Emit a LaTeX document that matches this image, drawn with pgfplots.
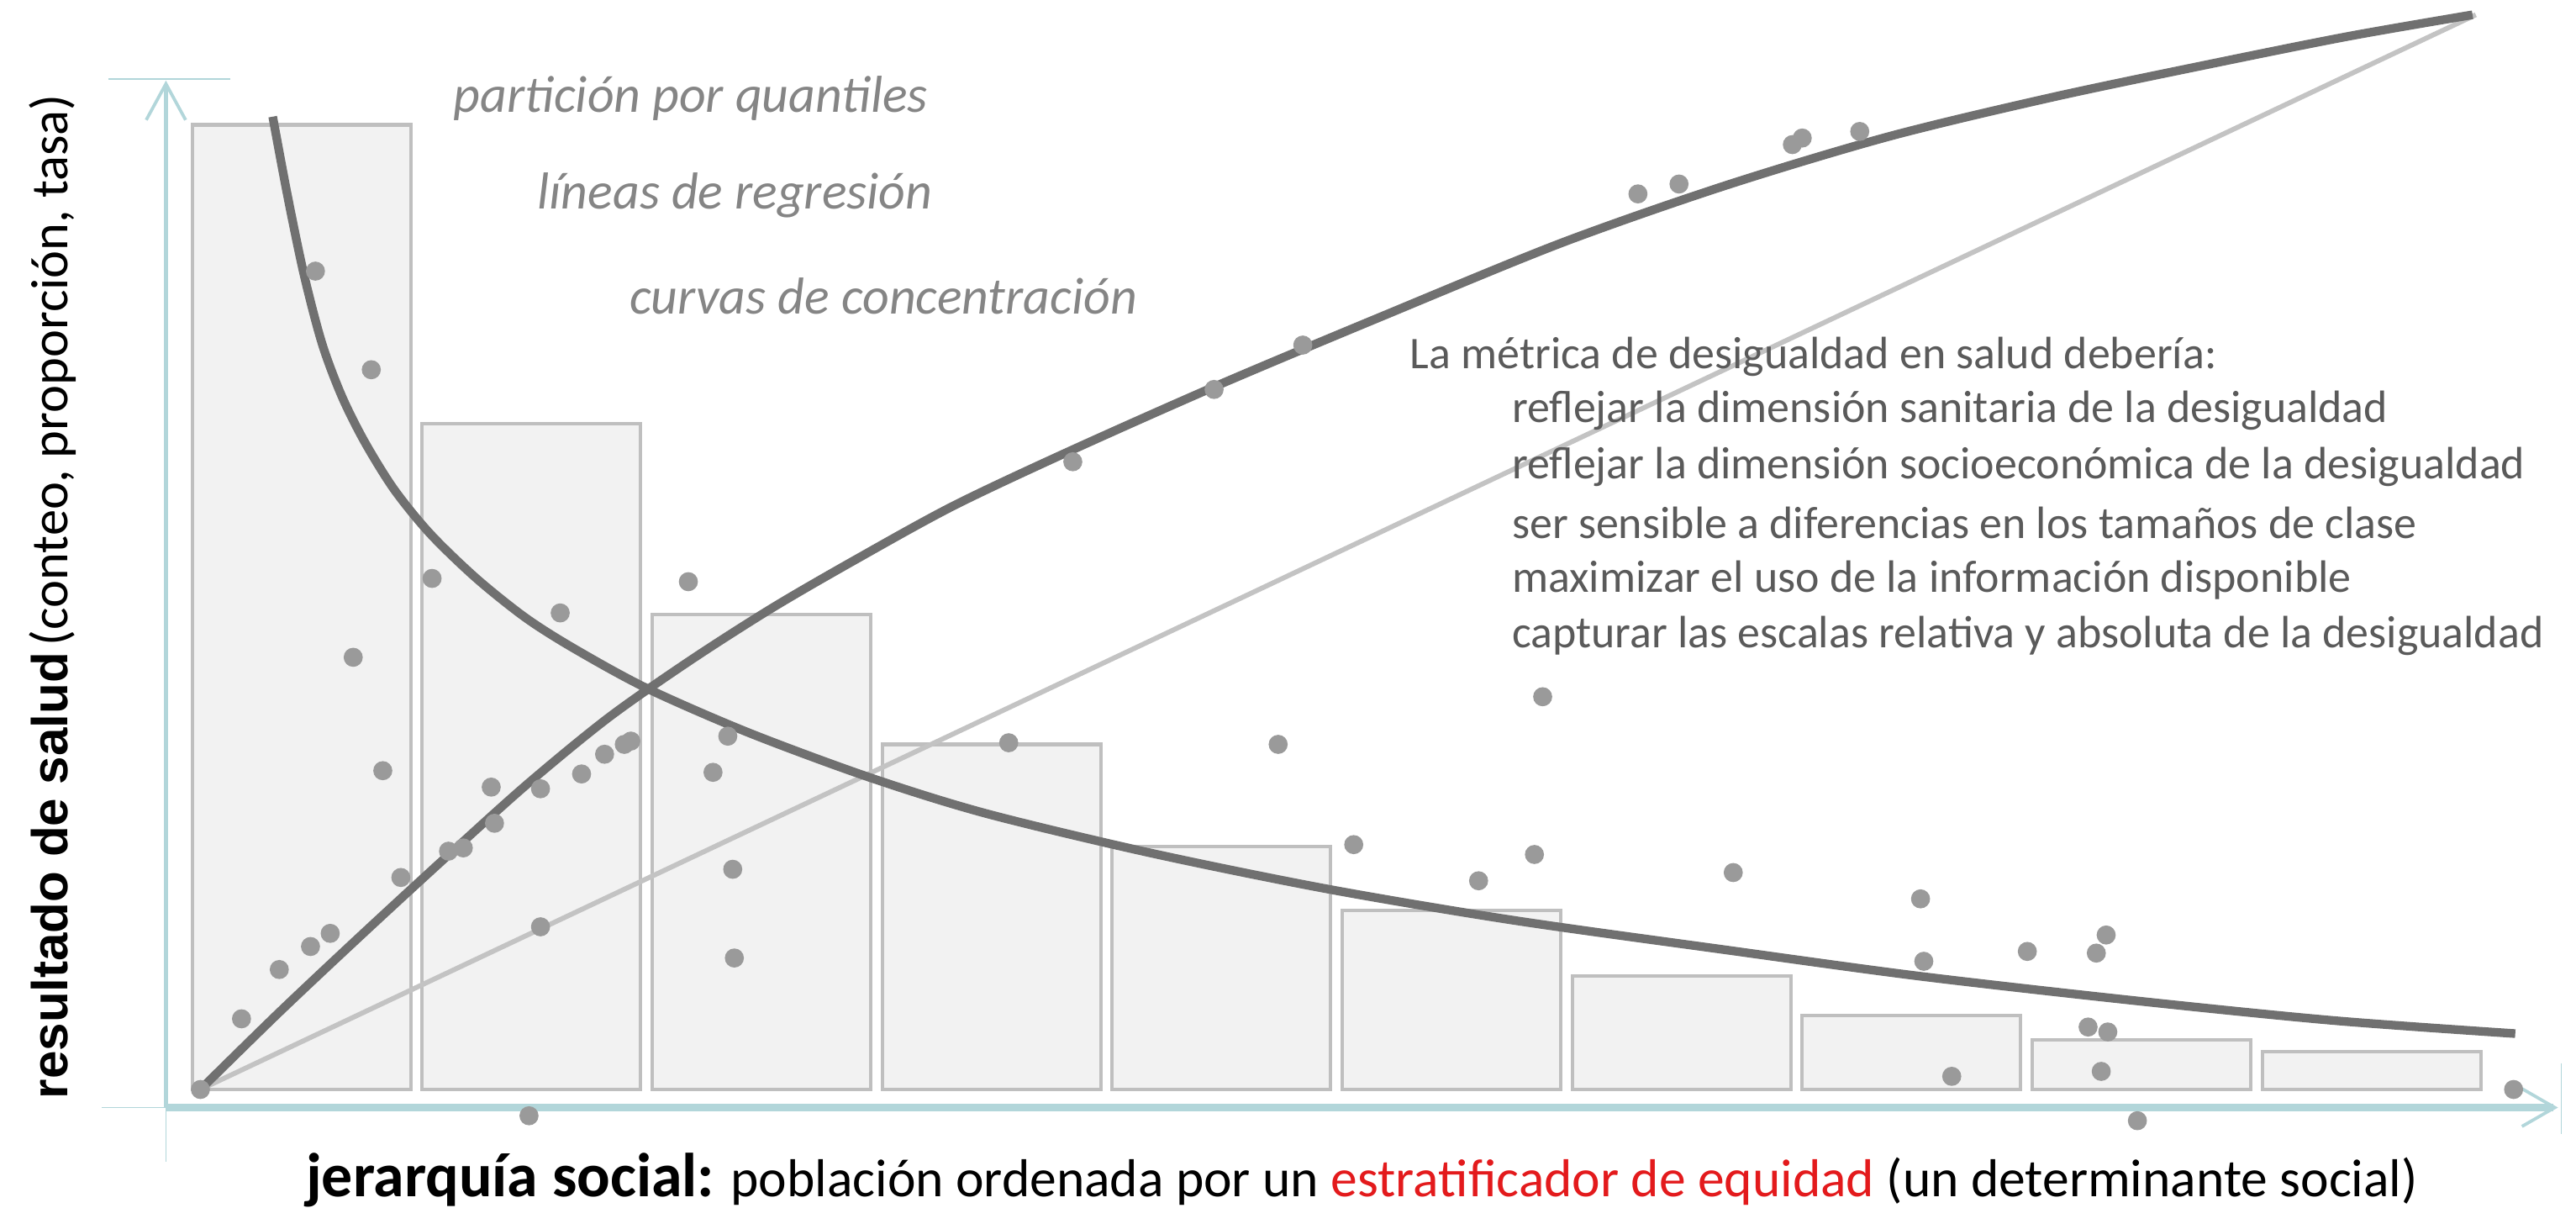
\documentclass[border=0pt]{standalone}
\usepackage{fontspec}
\setmainfont{Carlito}
\newfontfamily\arialfont{Liberation Sans}
\usepackage{pgfplots}
\pgfplotsset{compat=1.18}
\usetikzlibrary{arrows.meta}

\definecolor{barfill}{HTML}{F2F2F2}
\definecolor{baredge}{HTML}{BFBFBF}
\definecolor{curvegray}{HTML}{707070}
\definecolor{linegray}{HTML}{C3C3C3}
\definecolor{dotgray}{HTML}{9A9A9A}
\definecolor{axisblue}{HTML}{B2D6DA}
\definecolor{labelgray}{HTML}{858585}
\definecolor{textgray}{HTML}{5A5A5A}
\definecolor{equired}{HTML}{E31A1C}

\begin{document}
\begin{tikzpicture}
\begin{axis}[
  width=313.6mm, height=147mm, scale only axis,
  xmin=0, xmax=1568, ymin=-72, ymax=663,
  hide axis, clip=false,
]
\path (axis cs:0,-72) rectangle (axis cs:1568,663);

% axes
\draw[axisblue, line width=0.5pt] (axis cs:62,-11) -- (axis cs:101,-11);
\draw[axisblue, line width=0.5pt] (axis cs:101,-11) -- (axis cs:101,-44);
\draw[axisblue, line width=0.6pt] (axis cs:66,615) -- (axis cs:140,615);
\draw[axisblue, line width=0.5pt] (axis cs:1559,16) -- (axis cs:1559,-27);
\draw[axisblue, line width=2.8pt, -{Straight Barb[length=4mm,width=4.6mm,line width=1.1pt]}]
  (axis cs:101,-11) -- (axis cs:1557,-11);
\draw[axisblue, line width=1.7pt, -{Straight Barb[length=4.4mm,width=4.8mm,line width=1.1pt]}]
  (axis cs:101,-11) -- (axis cs:101,614);

% quantile bars
\addplot[ybar, bar width=133, fill=barfill, draw=baredge, line width=1.2pt]
  coordinates {(183.5,587)(323.5,405)(463.5,289)(603.5,210)(743.5,148)
               (883.5,109)(1023.5,69)(1163.5,45)(1303.5,30)(1443.5,23)};

% equality line
\addplot[linegray, line width=1.7pt] coordinates {(122,0)(1507,654)};

% observations
\addplot[only marks, mark=*, mark size=3.1pt, color=dotgray, mark options={draw=dotgray}]
  coordinates {
  (122,0)(147,43)(170,73)(189,87)(201,95)(244,129)(273,145)(282,147)
  (301,162)(299,184)(329,183)(354,192)(368,204)(384,212)(380,210)(329,99)
  (192,498)(226,438)(263,311)(341,290)(215,263)(233,194)(419,309)(443,215)
  (434,193)(446,134)(447,80)(322,-16)(614,211)(778,210)(939,239)(824,149)
  (900,127)(934,143)(1055,132)(1169,116)(1171,78)(1234,84)(1282,94)(1276,83)
  (1271,38)(1283,35)(1188,8)(1279,11)(1301,-19)(1530,0)(653,382)(739,426)
  (793,453)(997,545)(1022,551)(1091,575)(1097,579)(1132,583)};

% regression curve (decreasing)
\addplot[curvegray, line width=3pt, smooth] coordinates {
  (166,592)(175,544)(185,496)(196,454)(208,422)(222,394)(240,365)(262,338)
  (290,311)(320,287)(350,268)(394,244)(456,217)(529,190)(600,168)(700,144)
  (808,122)(921,103)(1050,85)(1168,69)(1300,54)(1420,42)(1531,34)};

% concentration curve (increasing)
\addplot[curvegray, line width=3pt, smooth] coordinates {
  (122,0)(170,47)(220,94)(270,140)(320,185)(370,226)(420,261)(470,293)
  (520,322)(580,355)(650,388)(740,428)(840,470)(950,515)(1050,550)
  (1150,580)(1250,604)(1350,625)(1430,641)(1505,654)};

% texts
\node[anchor=west, text=labelgray, font=\itshape\fontsize{18}{22}\selectfont]
  at (axis cs:270,603) {partición por quantiles};
\node[anchor=west, text=labelgray, font=\itshape\fontsize{18}{22}\selectfont]
  at (axis cs:321,544) {líneas de regresión};
\node[anchor=west, text=labelgray, font=\itshape\fontsize{18}{22}\selectfont]
  at (axis cs:377,483) {curvas de concentración};

\node[anchor=west, text=textgray, font=\fontsize{15.7}{19}\selectfont, inner sep=0pt]
  at (axis cs:858,446) {La métrica de desigualdad en salud debería:};
\node[anchor=west, text=textgray, font=\fontsize{15.7}{19}\selectfont, inner sep=0pt]
  at (axis cs:920,413) {reflejar la dimensión sanitaria de la desigualdad};
\node[anchor=west, text=textgray, font=\fontsize{15.7}{19}\selectfont, inner sep=0pt]
  at (axis cs:920,379) {reflejar la dimensión socioeconómica de la desigualdad};
\node[anchor=west, text=textgray, font=\fontsize{15.7}{19}\selectfont, inner sep=0pt]
  at (axis cs:920,345) {ser sensible a diferencias en los tamaños de clase};
\node[anchor=west, text=textgray, font=\fontsize{15.7}{19}\selectfont, inner sep=0pt]
  at (axis cs:920,310) {maximizar el uso de la información disponible};
\node[anchor=west, text=textgray, font=\fontsize{15.7}{19}\selectfont, inner sep=0pt]
  at (axis cs:920,276) {capturar las escalas relativa y absoluta de la desigualdad};

% axis labels
\node[inner sep=0pt, font=\fontsize{18.5}{22}\selectfont] at (axis cs:829,-55)
  {{\bfseries\fontsize{21.5}{24}\selectfont jerarquía social:} población ordenada por un
   \textcolor{equired}{estratificador de equidad} (un determinante social)};
\node[inner sep=0pt, rotate=90] at (axis cs:32,300)
  {{\arialfont\bfseries\fontsize{17.5}{21}\selectfont resultado de salud}
   {\fontsize{18.2}{21}\selectfont (conteo, proporción, tasa)}};
\end{axis}
\end{tikzpicture}
\end{document}
